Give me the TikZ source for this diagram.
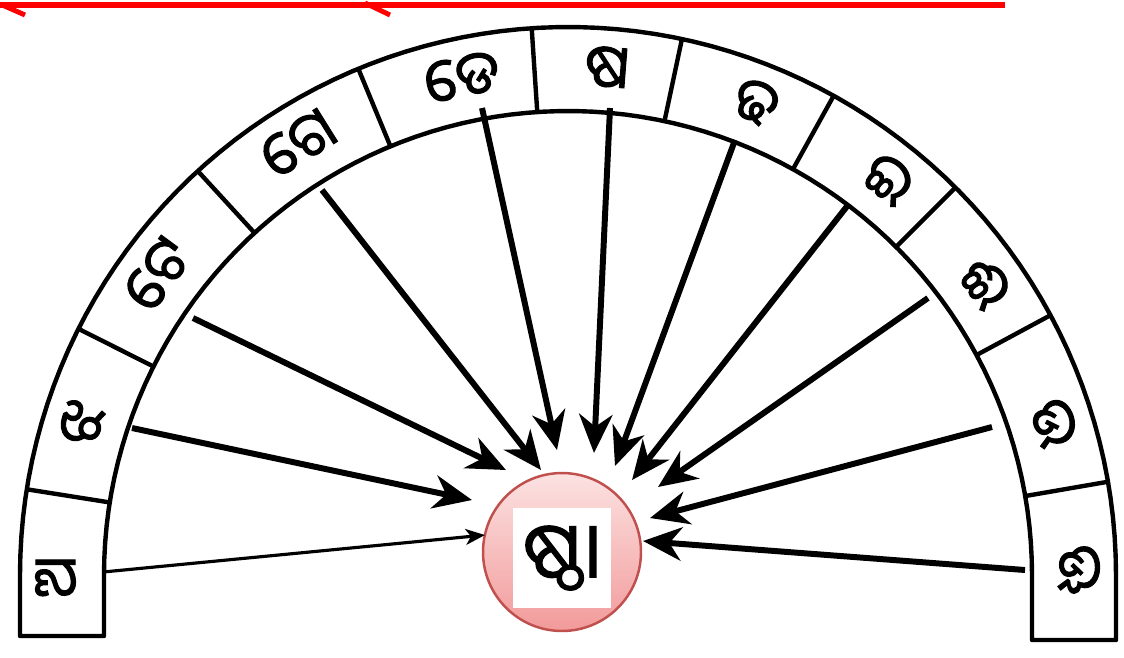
\documentclass[tikz,border=0pt]{standalone}
\usepackage{fontspec}
\usetikzlibrary{arrows.meta}
\newfontfamily\odia[Script=Oriya, AutoFakeBold=1.6]{Noto Sans Oriya UI}
\definecolor{hubline}{HTML}{C0504D}
\definecolor{hubtop}{HTML}{FCE2E2}
\definecolor{hubbot}{HTML}{F29A9A}
\definecolor{redmark}{HTML}{FF0000}

\begin{document}
\begin{tikzpicture}[x=0.02cm, y=-0.02cm,
      band/.style={line width=2.5pt, draw=black, line join=round},
      lbl/.style={font=\odia\bfseries\fontsize{34}{36}\selectfont, inner sep=0pt},
      hub/.style={circle, draw=hubline, line width=1.4pt, top color=hubtop,
                  bottom color=hubbot, minimum size=3.16cm, inner sep=0pt},
      arr/.style={-{Stealth[length=22pt, width=19pt, inset=7pt]}, line width=3.4pt},
      thinarr/.style={-{Stealth[length=11pt, width=9pt, inset=3pt]}, line width=1.8pt},
      redline/.style={draw=redmark, line width=3.2pt}]
    \useasboundingbox (0,0) rectangle (1124,657);
    \fill[white] (0,0) rectangle (1124,657);
    % red marks at the top
    \draw[redline] (0,5) -- (1005,5);
    \draw[redline, line width=2.8pt] (0,4) -- (25,15);
    \draw[redline, line width=2.8pt] (365,3) -- (390,15);
    % the band
    \draw[band, fill=white] (20,636) -- (20,575)
      -- plot[domain=180:0, samples=90] ({568+548*cos(\x)},{575-548*sin(\x)})
      -- (1116,640) -- (1032,640) -- (1032,575)
      -- plot[domain=0:180, samples=90] ({568+464*cos(\x)},{575-464*sin(\x)})
      -- (104,636) -- cycle;
    \foreach \a in {171,153.3,132.5,112.5,93.8,78,61,45,28.3,9.8}
      \draw[band] ({568+464*cos(\a)},{575-464*sin(\a)}) -- ({568+548*cos(\a)},{575-548*sin(\a)});
    % letters
    \node[lbl, rotate=90] (l1) at (58,577) {ଅ};
    \foreach \a/\t [count=\i from 2] in {162.7/ଝ, 143.7/ଟେ, 122/ଗେ, 102/ଡେ, 85.6/ଷ,
                                          68.3/ଢ, 51/ଇ, 35/ଈ, 17.4/ଉ}
      \node[lbl, rotate=\a-90] (l\i) at ({568+507*cos(\a)},{575-507*sin(\a)}) {\t};
    \node[lbl, rotate=-90] (l11) at (1077,570) {ଊ};
    % centre
    \node[hub] (c) at (562,552) {};
    \node[fill=white, minimum width=1.96cm, minimum height=2cm, inner sep=0pt,
          font=\odia\bfseries\fontsize{44}{46}\selectfont] (w) at (562,558) {ଷ୍ଠା};
    % arrows
    \coordinate (s1) at (103,572);
    \coordinate (e1) at (485,535);
    \draw[thinarr] (s1) -- (e1);
    \foreach \sx/\sy/\ex/\ey [count=\i from 2] in {132/428/472/500, 193/318/506/470,
        322/190/541/470, 482/108/557/450, 610/108/594/453, 735/140/615/466,
        848/205/632/480, 928/298/658/487, 992/427/650/518, 1025/570/643/541}{
      \coordinate (s\i) at (\sx,\sy);
      \coordinate (e\i) at (\ex,\ey);
      \draw[arr] (s\i) -- (e\i);
    }
\end{tikzpicture}
\end{document}
